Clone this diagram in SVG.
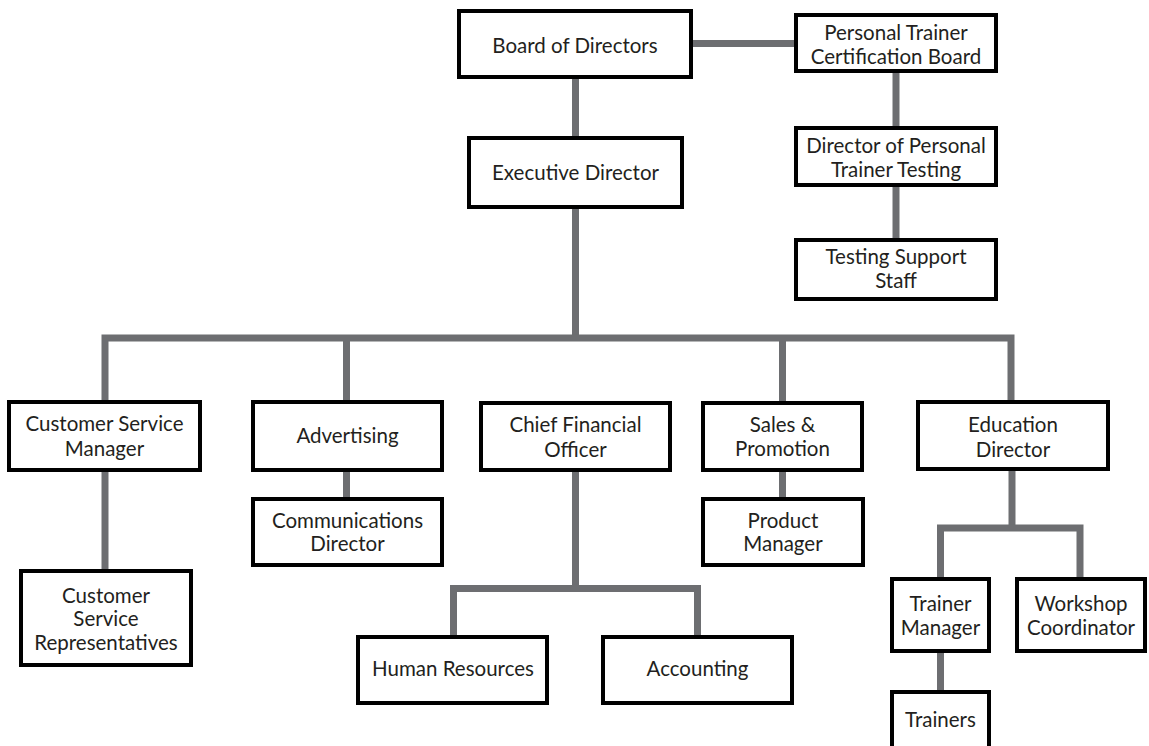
<svg xmlns="http://www.w3.org/2000/svg" width="1149" height="746" viewBox="0 0 1149 746">
<style>
.bg{fill:#ffffff}
.c{fill:none;stroke:#6d6e71;stroke-width:7;stroke-linejoin:miter;stroke-linecap:butt}
.n rect{fill:#ffffff;stroke:#000000;stroke-width:4}
.n text{font-family:Lato,"Liberation Sans",sans-serif;font-size:20.5px;fill:#231f20;text-anchor:middle}
</style>
<rect class="bg" x="0" y="0" width="1149" height="746"/>
<g id="connectors">
<path class="c" d="M690,43.5 H797"/>
<path class="c" d="M575.5,76 V139"/>
<path class="c" d="M896,70 V129"/>
<path class="c" d="M896,184 V241"/>
<path class="c" d="M575.5,206 V338"/>
<path class="c" d="M105,403 V338 H1011 V403"/>
<path class="c" d="M346.5,338 V403"/>
<path class="c" d="M782.5,338 V403"/>
<path class="c" d="M105,469 V572"/>
<path class="c" d="M346.5,469 V500"/>
<path class="c" d="M575.5,469 V588.5"/>
<path class="c" d="M453.5,638 V588.5 H697.5 V638"/>
<path class="c" d="M782.5,469 V500"/>
<path class="c" d="M1012,468 V528"/>
<path class="c" d="M940.5,580 V528 H1080 V580"/>
<path class="c" d="M940.5,650 V693"/>
</g>
<g id="board" class="n"><rect x="459" y="11" width="232" height="66"/><text x="575" y="53">Board of Directors</text></g>
<g id="ptcb" class="n"><rect x="796" y="15" width="200" height="56"/><text x="896" y="39.5">Personal Trainer</text><text x="896" y="64">Certification Board</text></g>
<g id="exec" class="n"><rect x="469" y="138" width="213" height="69"/><text x="575.5" y="180">Executive Director</text></g>
<g id="dptt" class="n"><rect x="796" y="128" width="200" height="57"/><text x="896" y="153">Director of Personal</text><text x="896" y="177">Trainer Testing</text></g>
<g id="tss" class="n"><rect x="796" y="240" width="200" height="59"/><text x="896" y="264">Testing Support</text><text x="896" y="288">Staff</text></g>
<g id="csm" class="n"><rect x="9" y="402" width="191" height="68"/><text x="104.5" y="431">Customer Service</text><text x="104.5" y="456">Manager</text></g>
<g id="adv" class="n"><rect x="253" y="402" width="189" height="68"/><text x="347.5" y="443">Advertising</text></g>
<g id="cfo" class="n"><rect x="481" y="403" width="189" height="67"/><text x="575.5" y="432">Chief Financial</text><text x="575.5" y="457">Officer</text></g>
<g id="sales" class="n"><rect x="703" y="403" width="159" height="67"/><text x="782.5" y="432">Sales &amp;</text><text x="782.5" y="456">Promotion</text></g>
<g id="edu" class="n"><rect x="918" y="402" width="190" height="67"/><text x="1013" y="432">Education</text><text x="1013" y="457">Director</text></g>
<g id="csr" class="n"><rect x="21" y="571" width="170" height="94"/><text x="106" y="602.5">Customer</text><text x="106" y="626">Service</text><text x="106" y="650">Representatives</text></g>
<g id="comm" class="n"><rect x="253" y="499" width="189" height="66"/><text x="347.5" y="528">Communications</text><text x="347.5" y="551">Director</text></g>
<g id="pm" class="n"><rect x="703" y="499" width="160" height="66"/><text x="783" y="528">Product</text><text x="783" y="551">Manager</text></g>
<g id="hr" class="n"><rect x="358" y="637" width="189" height="66"/><text x="453" y="676">Human Resources</text></g>
<g id="acct" class="n"><rect x="603" y="637" width="189" height="66"/><text x="697.5" y="676">Accounting</text></g>
<g id="tm" class="n"><rect x="892" y="579" width="97" height="72"/><text x="940.5" y="611">Trainer</text><text x="940.5" y="635">Manager</text></g>
<g id="wc" class="n"><rect x="1017" y="579" width="128" height="72"/><text x="1081" y="611">Workshop</text><text x="1081" y="635">Coordinator</text></g>
<g id="trainers" class="n"><rect x="892" y="692" width="97" height="70"/><text x="940.5" y="727">Trainers</text></g>
</svg>
